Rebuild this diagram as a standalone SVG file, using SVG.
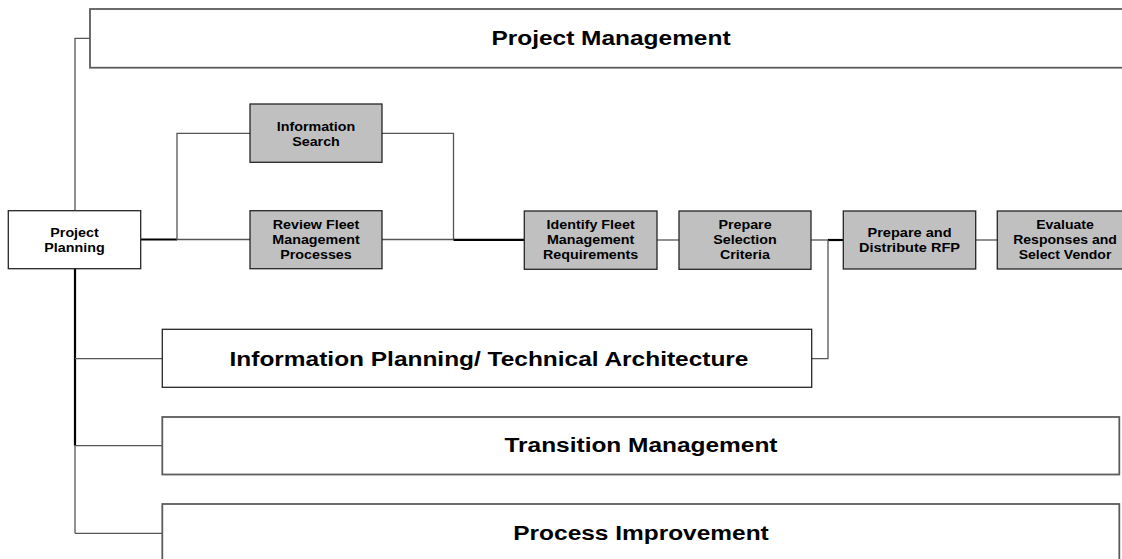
<svg xmlns="http://www.w3.org/2000/svg" width="1122" height="559" viewBox="0 0 1122 559">
  <style>
    .box { fill: #ffffff; stroke: #262626; stroke-width: 1.3; }
    .task { fill: #c0c0c0; stroke: #262626; stroke-width: 1.3; }
    .bar { fill: #ffffff; stroke: #5c5c5c; stroke-width: 1.8; }
    .thin { fill: none; stroke: #555555; stroke-width: 1.3; }
    .thick { fill: none; stroke: #000000; stroke-width: 2.2; }
    text { font-family: "Liberation Sans", Arial, Helvetica, sans-serif; font-weight: bold; fill: #000000; text-anchor: middle; }
    .s { font-size: 13px; }
    .l { font-size: 21px; }
  </style>

  <!-- connectors -->
  <g id="connectors">
    <!-- Project Planning up to Project Management -->
    <polyline class="thin" points="75,210.7 75,38.3 90,38.3"/>
    <!-- Project Planning to the two parallel tasks -->
    <line class="thick" x1="140.7" y1="239.5" x2="177" y2="239.5"/>
    <polyline class="thin" points="250,133.3 177,133.3 177,239.5 250,239.5"/>
    <!-- parallel tasks merge into Identify Fleet Management Requirements -->
    <polyline class="thin" points="382,133.3 453.5,133.3 453.5,239.5"/>
    <line class="thin" x1="382" y1="239.5" x2="453.5" y2="239.5"/>
    <line class="thick" x1="453.5" y1="239.8" x2="524.3" y2="239.8"/>
    <line class="thin" x1="657" y1="240" x2="679" y2="240"/>
    <line class="thin" x1="811" y1="240" x2="828" y2="240"/>
    <line class="thick" x1="828" y1="240" x2="843.3" y2="240"/>
    <polyline class="thin" points="811.7,358.7 828,358.7 828,240"/>
    <line class="thin" x1="975.7" y1="240" x2="997.3" y2="240"/>
    <!-- Project Planning down to the lower workstreams -->
    <line class="thick" x1="75" y1="268.7" x2="75" y2="445.7"/>
    <line class="thin" x1="75" y1="445.7" x2="75" y2="533.3"/>
    <line class="thin" x1="75" y1="358.7" x2="162.3" y2="358.7"/>
    <line class="thin" x1="75" y1="445.7" x2="162.3" y2="445.7"/>
    <line class="thin" x1="75" y1="533.3" x2="162.3" y2="533.3"/>
  </g>

  <g id="project-management">
    <rect class="bar" x="90" y="9" width="1045" height="58.7"/>
    <text class="l" transform="translate(611 0) scale(1.165 1)" x="0" y="45.5">Project Management</text>
  </g>

  <g id="project-planning">
    <rect class="box" x="8.3" y="210.7" width="132.4" height="58"/>
    <text class="s" transform="translate(74.5 0) scale(1.1 1)"><tspan x="0" y="236.6">Project</tspan><tspan x="0" y="251.6">Planning</tspan></text>
  </g>

  <g id="information-search">
    <rect class="task" x="250" y="104" width="132" height="58.3"/>
    <text class="s" transform="translate(316 0) scale(1.1 1)"><tspan x="0" y="131.4">Information</tspan><tspan x="0" y="145.6">Search</tspan></text>
  </g>

  <g id="review-fleet">
    <rect class="task" x="250" y="210.7" width="132" height="58"/>
    <text class="s" transform="translate(316 0) scale(1.1 1)"><tspan x="0" y="229.2">Review Fleet</tspan><tspan x="0" y="244.2">Management</tspan><tspan x="0" y="259.2">Processes</tspan></text>
  </g>

  <g id="identify-requirements">
    <rect class="task" x="524.3" y="211" width="132.7" height="58.3"/>
    <text class="s" transform="translate(590.6 0) scale(1.1 1)"><tspan x="0" y="229.3">Identify Fleet</tspan><tspan x="0" y="244.3">Management</tspan><tspan x="0" y="259.3">Requirements</tspan></text>
  </g>

  <g id="selection-criteria">
    <rect class="task" x="679" y="211" width="132" height="58.3"/>
    <text class="s" transform="translate(745 0) scale(1.1 1)"><tspan x="0" y="229.3">Prepare</tspan><tspan x="0" y="244.3">Selection</tspan><tspan x="0" y="259.3">Criteria</tspan></text>
  </g>

  <g id="distribute-rfp">
    <rect class="task" x="843.3" y="211" width="132.4" height="58"/>
    <text class="s" transform="translate(909.5 0) scale(1.12 1)"><tspan x="0" y="236.8">Prepare and</tspan><tspan x="0" y="252.3">Distribute RFP</tspan></text>
  </g>

  <g id="select-vendor">
    <rect class="task" x="997.3" y="211" width="136" height="58"/>
    <text class="s" transform="translate(1065 0) scale(1.08 1)"><tspan x="0" y="229.3">Evaluate</tspan><tspan x="0" y="244.3">Responses and</tspan><tspan x="0" y="259.3">Select Vendor</tspan></text>
  </g>

  <g id="information-planning">
    <rect class="box" x="162.3" y="329.3" width="649.4" height="58"/>
    <text class="l" transform="translate(489 0) scale(1.165 1)" x="0" y="366">Information Planning/ Technical Architecture</text>
  </g>

  <g id="transition-management">
    <rect class="bar" x="162.3" y="417" width="957" height="57.5"/>
    <text class="l" transform="translate(641 0) scale(1.165 1)" x="0" y="452">Transition Management</text>
  </g>

  <g id="process-improvement">
    <rect class="bar" x="162.3" y="504" width="957" height="62"/>
    <text class="l" transform="translate(641 0) scale(1.165 1)" x="0" y="540">Process Improvement</text>
  </g>
</svg>
